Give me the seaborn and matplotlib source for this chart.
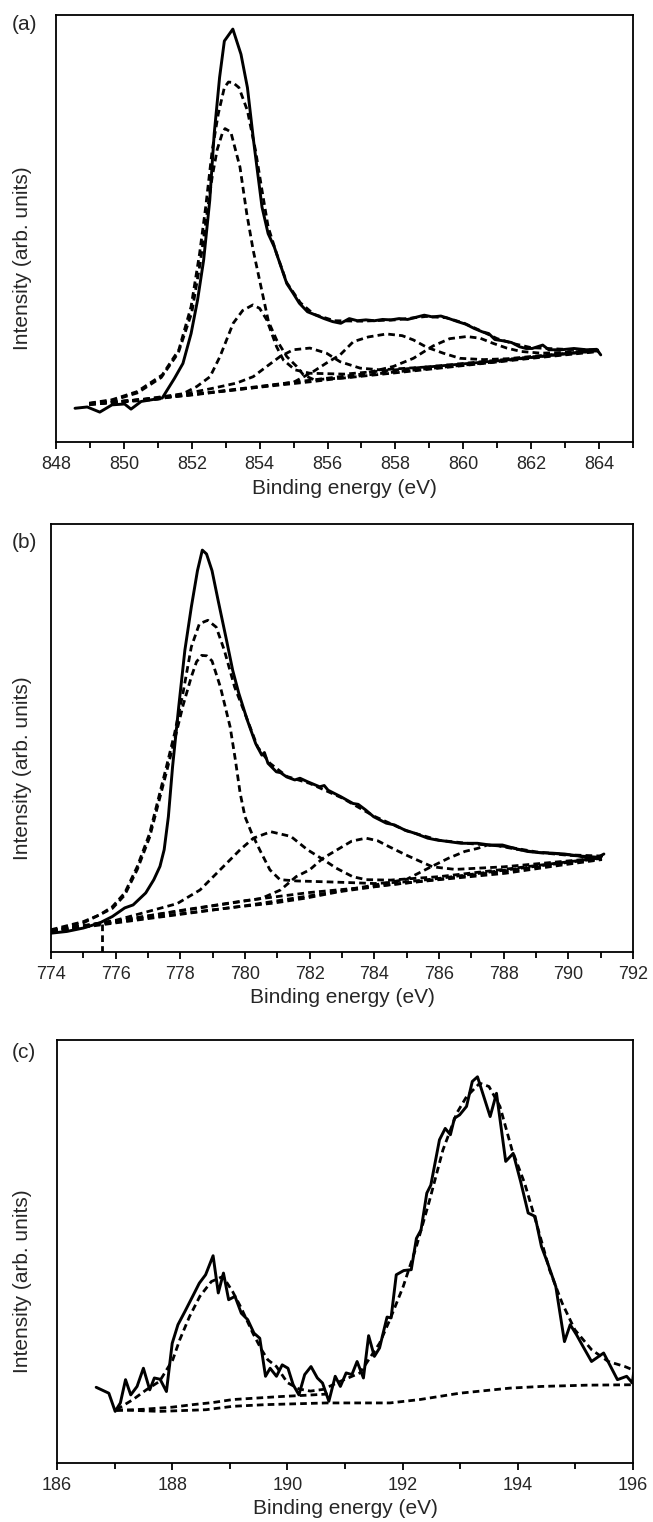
import matplotlib
matplotlib.use("Agg")
import matplotlib.pyplot as plt
from matplotlib.ticker import MultipleLocator
import seaborn as sns

sns.set_style("ticks")
plt.rcParams['font.family'] = ['Liberation Sans', 'DejaVu Sans']

# ------------------------------------------------------------------ data
PANEL_LABELS = ['(a)', '(b)', '(c)']
X_LABEL = 'Binding energy (eV)'
Y_LABEL = 'Intensity (arb. units)'

a_ticks = [848, 850, 852, 854, 856, 858, 860, 862, 864]
b_ticks = [774, 776, 778, 780, 782, 784, 786, 788, 790, 792]
c_ticks = [186, 188, 190, 192, 194, 196]

# ---- panel (a): (binding energy, intensity) pairs
a_exp = [(848.56, 7.9), (848.92, 8.2), (849.29, 7.0), (849.65, 8.7), (850.02, 8.9), (850.21, 7.7),
         (850.51, 9.5), (851.13, 10.3), (851.49, 14.9), (851.74, 18.4), (851.98, 25.4), (852.17, 33.2),
         (852.35, 42.6), (852.53, 56.6), (852.66, 72.1), (852.82, 85.4), (852.96, 93.9), (853.21, 96.7),
         (853.45, 90.8), (853.64, 83.0), (853.82, 70.6), (854.07, 55.0), (854.25, 48.8), (854.43, 45.7),
         (854.80, 37.1), (854.99, 34.8), (855.17, 32.5), (855.41, 30.5), (855.66, 29.7), (855.90, 28.9),
         (856.15, 28.2), (856.39, 27.8), (856.64, 28.9), (856.88, 28.4), (857.13, 28.6), (857.38, 28.4),
         (857.62, 28.7), (857.87, 28.6), (858.11, 28.9), (858.36, 28.7), (858.60, 29.2), (858.85, 29.7),
         (859.09, 29.3), (859.34, 29.5), (859.58, 28.9), (859.83, 28.2), (860.07, 27.6), (860.32, 26.6),
         (860.56, 25.8), (860.75, 25.4), (860.93, 24.0), (861.17, 23.7), (861.42, 23.3), (861.66, 22.3),
         (861.85, 21.9), (862.03, 21.9), (862.34, 22.7), (862.52, 21.6), (862.89, 21.6), (863.26, 21.9),
         (863.63, 21.6), (863.93, 21.7), (864.05, 20.4)]
a_env = [(848.98, 9.1), (849.65, 9.9), (850.39, 11.8), (851.13, 15.7), (851.62, 21.6), (851.98, 31.7),
         (852.23, 44.1), (852.41, 55.0), (852.60, 68.2), (852.78, 76.8), (852.96, 83.0), (853.08, 84.3),
         (853.21, 84.2), (853.39, 83.0), (853.64, 77.6), (853.88, 68.2), (854.07, 58.9), (854.25, 50.4),
         (854.50, 44.1), (854.80, 37.3), (855.2, 32.6), (855.6, 29.9), (856.2, 28.4), (857.0, 28.3),
         (858.0, 28.6), (858.9, 29.4), (859.5, 29.1), (860.0, 27.9), (860.5, 26.1), (861.0, 24.2),
         (861.5, 23.0), (862.0, 22.1), (863.0, 21.7), (864.0, 21.5)]
a_c1 = [(848.98, 9.0), (849.7, 9.8), (850.4, 11.5), (851.1, 15.1), (851.6, 20.8), (852.0, 30.3),
        (852.25, 42.0), (852.45, 53.5), (852.6, 62.0), (852.75, 68.5), (852.9, 72.3), (852.98, 73.4),
        (853.15, 72.6), (853.42, 64.4), (853.62, 53.5), (853.81, 44.9), (854.06, 35.6), (854.26, 28.2),
        (854.5, 23.9), (854.8, 20.0), (855.09, 17.7), (855.29, 15.7), (855.6, 14.6), (856.5, 15.0),
        (858.0, 16.2), (860.0, 17.9), (862.0, 19.6), (864.0, 21.2)]
a_c2 = [(848.98, 8.9), (850.5, 9.9), (851.74, 11.3), (852.15, 13.0), (852.54, 15.3), (852.83, 20.0),
        (853.22, 27.8), (853.5, 30.8), (853.8, 32.1), (854.0, 31.3), (854.21, 28.6), (854.5, 22.3),
        (854.7, 19.2), (855.04, 16.9), (855.48, 16.1), (856.5, 15.9), (858.0, 16.9), (860.0, 18.4),
        (862.0, 19.9), (864.0, 21.3)]
a_c3 = [(848.98, 8.8), (851.0, 10.0), (852.63, 12.6), (853.32, 13.8), (853.81, 15.3), (854.21, 17.7),
        (854.6, 20.0), (854.99, 21.6), (855.48, 22.0), (855.97, 20.8), (856.37, 18.8), (856.96, 17.3),
        (857.55, 16.9), (859.0, 17.6), (861.0, 19.0), (864.0, 21.4)]
a_c4 = [(848.98, 8.8), (852.0, 11.0), (854.0, 12.9), (855.0, 14.0), (855.58, 16.5), (855.97, 18.5),
        (856.37, 20.4), (856.76, 23.5), (857.2, 24.6), (857.74, 25.3), (858.2, 24.9), (858.53, 23.9),
        (858.92, 22.2), (859.41, 20.8), (859.9, 19.6), (860.6, 19.3), (861.3, 19.5), (862.5, 20.4),
        (864.0, 21.5)]
a_c5 = [(848.98, 8.8), (852.0, 11.1), (855.0, 14.0), (857.0, 15.9), (857.94, 17.7), (858.53, 19.6),
        (859.11, 22.5), (859.6, 24.2), (860.1, 24.7), (860.5, 24.3), (860.88, 23.1), (861.28, 22.0),
        (861.7, 21.2), (862.3, 20.8), (863.0, 21.0), (864.0, 21.5)]
a_bg = [(848.98, 8.9), (851.0, 10.2), (852.0, 11.1), (853.6, 12.5), (855.6, 14.2), (857.5, 16.0),
        (859.5, 17.6), (861.0, 18.8), (862.0, 19.8), (863.0, 20.7), (864.0, 21.4)]

# ---- panel (b)
b_exp = [(774.0, 4.4), (774.49, 4.8), (775.0, 5.6), (775.51, 6.8), (775.9, 8.3), (776.28, 10.3),
         (776.54, 11.0), (776.93, 13.8), (777.18, 16.9), (777.37, 20.0), (777.5, 23.9), (777.63, 31.6),
         (777.76, 43.3), (777.95, 57.3), (778.14, 70.5), (778.34, 80.6), (778.53, 89.1), (778.68, 93.9),
         (778.81, 93.0), (778.98, 89.1), (779.17, 82.1), (779.43, 72.8), (779.62, 65.8), (779.81, 60.4),
         (780.07, 54.2), (780.33, 48.7), (780.52, 46.0), (780.6, 46.6), (780.71, 44.1), (780.97, 42.1),
         (781.1, 41.9), (781.29, 40.9), (781.54, 40.2), (781.7, 40.6), (781.93, 39.8), (782.31, 38.6),
         (782.45, 38.9), (782.57, 37.8), (782.96, 36.3), (783.34, 34.7), (783.5, 34.5), (783.73, 33.2),
         (783.98, 31.6), (784.37, 30.1), (784.62, 29.7), (784.94, 28.5), (785.27, 27.7), (785.65, 26.6),
         (785.91, 26.2), (786.29, 25.8), (786.68, 25.4), (787.19, 25.4), (787.57, 25.0), (787.96, 25.0),
         (788.34, 24.2), (788.73, 23.5), (789.11, 23.2), (789.5, 23.1), (789.88, 22.9), (790.27, 22.5),
         (790.65, 21.9), (790.91, 22.1), (791.1, 22.9)]
b_env = [(774.0, 5.2), (775.0, 7.1), (775.51, 8.7), (775.9, 10.6), (776.28, 13.8), (776.67, 20.0),
         (777.05, 27.7), (777.31, 35.5), (777.57, 43.3), (777.82, 51.0), (778.08, 60.4), (778.34, 71.3),
         (778.59, 76.7), (778.85, 77.5), (779.11, 75.9), (779.36, 70.5), (779.68, 61.9), (780.0, 55.7),
         (780.39, 47.9), (780.77, 44.1), (781.3, 41.0), (782.0, 39.4), (783.0, 36.0), (784.0, 31.7),
         (785.0, 28.3), (786.0, 26.1), (787.0, 25.3), (788.0, 24.7), (789.0, 23.4), (790.0, 22.7),
         (791.1, 22.4)]
b_c1 = [(774.0, 5.0), (775.0, 6.8), (775.9, 10.2), (776.28, 13.3), (776.67, 19.3), (777.05, 26.8),
        (777.31, 34.4), (777.57, 42.0), (777.82, 49.5), (778.08, 57.5), (778.34, 64.3), (778.5, 67.8),
        (778.66, 69.3), (778.82, 69.2), (778.98, 68.0), (779.24, 61.9), (779.54, 52.6), (779.7, 45.0),
        (779.85, 37.1), (780.0, 31.6), (780.21, 27.7), (780.46, 23.8), (780.77, 19.2), (781.08, 16.9),
        (781.6, 16.6), (782.5, 16.4), (783.3, 16.2), (784.0, 16.0), (785.0, 16.4), (786.0, 17.2),
        (788.0, 19.1), (791.04, 21.9)]
b_c2 = [(774.0, 4.9), (776.0, 7.4), (777.9, 11.3), (778.61, 14.5), (779.23, 19.2), (779.85, 23.9),
        (780.26, 26.6), (780.8, 28.1), (781.42, 27.0), (781.93, 23.9), (782.44, 21.5), (782.82, 19.6),
        (783.33, 17.6), (783.74, 16.9), (784.5, 16.8), (786.0, 17.6), (788.0, 19.3), (791.04, 22.0)]
b_c3 = [(774.0, 4.8), (778.0, 9.6), (780.5, 12.5), (781.1, 14.5), (781.58, 17.6), (782.0, 19.2),
        (782.41, 21.9), (782.92, 24.2), (783.3, 25.9), (783.74, 26.6), (784.1, 26.0), (784.46, 24.6),
        (784.97, 22.7), (785.44, 21.1), (785.8, 19.9), (786.5, 19.3), (788.0, 19.9), (791.04, 22.0)]
b_c4 = [(774.0, 4.8), (780.0, 10.8), (783.0, 14.3), (785.0, 17.0), (785.78, 20.0), (786.29, 21.9),
        (786.8, 23.5), (787.19, 24.2), (787.5, 25.0), (787.83, 24.8), (788.4, 24.0), (789.0, 23.3),
        (790.0, 22.6), (791.04, 22.1)]
b_bg1 = [(774.0, 4.8), (775.6, 6.6), (777.0, 8.0), (778.5, 9.4), (779.83, 10.6), (780.86, 11.4),
         (781.89, 12.6), (782.92, 14.1), (784.46, 15.7), (786.0, 16.9), (788.06, 18.4), (789.5, 20.0),
         (791.04, 21.6)]
b_bg2 = [(774.0, 5.0), (776.0, 7.2), (778.0, 9.7), (780.0, 12.0), (782.0, 13.9), (784.0, 15.3),
         (786.0, 17.0), (788.0, 18.9), (791.04, 21.8)]
b_drop = [(775.58, 6.6), (775.58, 0.0)]

# ---- panel (c)
c_exp = [(186.68, 17.9), (186.9, 16.5), (187.01, 12.2), (187.1, 14.2), (187.19, 19.7), (187.28, 16.1),
         (187.39, 18.1), (187.5, 22.4), (187.61, 17.3), (187.69, 20.1), (187.79, 19.8), (187.9, 16.9),
         (188.0, 28.3), (188.1, 32.7), (188.22, 35.8), (188.37, 39.8), (188.47, 42.5), (188.58, 44.5),
         (188.71, 49.0), (188.8, 40.2), (188.89, 44.9), (188.98, 38.6), (189.09, 39.4), (189.2, 35.4),
         (189.31, 33.9), (189.42, 30.7), (189.52, 29.5), (189.62, 20.5), (189.7, 22.4), (189.81, 20.5),
         (189.91, 23.2), (190.01, 22.4), (190.1, 18.5), (190.2, 16.1), (190.3, 20.9), (190.41, 22.8),
         (190.52, 20.1), (190.61, 18.9), (190.72, 14.6), (190.83, 20.5), (190.92, 18.1), (191.02, 21.3),
         (191.12, 20.9), (191.21, 24.0), (191.32, 20.1), (191.41, 30.1), (191.51, 25.2), (191.6, 27.2),
         (191.73, 34.5), (191.8, 34.3), (191.89, 44.5), (192.02, 45.5), (192.15, 45.7), (192.24, 53.1),
         (192.32, 55.1), (192.42, 63.8), (192.49, 65.7), (192.64, 76.4), (192.74, 79.1), (192.83, 77.6),
         (192.9, 81.5), (192.99, 82.3), (193.11, 84.3), (193.21, 90.2), (193.3, 91.3), (193.41, 86.6),
         (193.52, 81.9), (193.63, 87.4), (193.79, 71.3), (193.92, 73.2), (194.05, 66.5), (194.18, 59.1),
         (194.3, 58.3), (194.41, 51.2), (194.52, 47.2), (194.66, 41.7), (194.81, 28.7), (194.91, 32.7),
         (195.02, 30.3), (195.13, 27.6), (195.28, 24.0), (195.49, 26.0), (195.73, 19.7), (195.89, 20.5),
         (195.99, 18.9), (196.01, 21.3)]
c_env = [(187.03, 12.6), (187.32, 15.0), (187.55, 17.3), (187.78, 19.3), (188.01, 24.4), (188.13, 29.1),
         (188.30, 34.6), (188.48, 39.4), (188.68, 42.9), (188.88, 44.1), (189.05, 40.5), (189.2, 36.6),
         (189.4, 30.7), (189.55, 26.8), (189.66, 24.4), (189.81, 22.8), (190.0, 19.0), (190.2, 17.5),
         (190.4, 17.0), (190.62, 17.4), (190.9, 19.2), (191.26, 21.3), (191.6, 28.3), (191.78, 33.9),
         (192.01, 41.7), (192.24, 51.2), (192.47, 62.2), (192.7, 74.0), (192.94, 82.7), (193.11, 86.6),
         (193.34, 89.8), (193.5, 89.0), (193.69, 84.3), (193.9, 74.0), (194.12, 66.1), (194.34, 55.9),
         (194.55, 45.7), (194.77, 37.8), (194.99, 31.5), (195.28, 26.8), (195.57, 24.0), (195.86, 22.8),
         (196.0, 22.0)]
c_bgA = [(187.03, 12.4), (187.5, 12.7), (188.0, 13.2), (188.36, 13.8), (188.71, 14.3), (189.05, 15.0),
         (189.52, 15.4), (189.87, 15.7), (190.3, 16.0), (190.7, 16.3)]
c_bgB = [(187.03, 12.6), (187.78, 12.2), (188.59, 12.6), (189.05, 13.4), (189.63, 13.8), (190.68, 14.2),
         (191.78, 14.2), (192.3, 15.0), (192.99, 16.5), (193.86, 17.7), (194.41, 18.1), (195.2, 18.4),
         (196.0, 18.5)]

panels = [
    dict(xlim=(848, 865), ticks=a_ticks, exp=a_exp,
         fits=[a_env, a_c1, a_c2, a_c3, a_c4, a_c5, a_bg]),
    dict(xlim=(774, 792), ticks=b_ticks, exp=b_exp,
         fits=[b_env, b_c1, b_c2, b_c3, b_c4, b_bg1, b_bg2, b_drop]),
    dict(xlim=(186, 196), ticks=c_ticks, exp=c_exp,
         fits=[c_env, c_bgA, c_bgB]),
]

# ------------------------------------------------------------------ layout (pixels)
W, H = 653, 1522
boxes = [(56, 15, 633, 442), (51, 524, 633, 952), (57, 1040, 633, 1463)]
label_y = [25, 543, 1053]

fig = plt.figure(figsize=(W / 100, H / 100), dpi=100)

DASH = (0, (2.4, 1.5))
for i, p in enumerate(panels):
    l, t, r, b = boxes[i]
    ax = fig.add_axes([l / W, 1 - b / H, (r - l) / W, (b - t) / H])
    for f in p['fits']:
        xs, ys = zip(*f)
        sns.lineplot(x=list(xs), y=list(ys), ax=ax, color='black', linewidth=2.0,
                     linestyle=DASH, sort=False, estimator=None)
    xs, ys = zip(*p['exp'])
    sns.lineplot(x=list(xs), y=list(ys), ax=ax, color='black', linewidth=2.1,
                 sort=False, estimator=None)

    ax.set_xlim(*p['xlim'])
    ax.set_ylim(0, 100)
    ax.set_xticks(p['ticks'])
    ax.set_xticklabels([str(v) for v in p['ticks']])
    ax.xaxis.set_minor_locator(MultipleLocator(1))
    ax.set_yticks([])
    ax.tick_params(axis='x', which='major', direction='out', length=5, width=1.3,
                   labelsize=13, pad=5, top=False, color='black')
    ax.tick_params(axis='x', which='minor', direction='out', length=4, width=1.3, top=False,
                   color='black')
    for s in ax.spines.values():
        s.set_visible(True)
        s.set_linewidth(1.3)
        s.set_color('black')

    ax.set_xlabel(X_LABEL, fontsize=15)
    ax.xaxis.label.set_va('center')
    ax.xaxis.set_label_coords(0.5, -46 / (b - t))
    ax.set_ylabel(Y_LABEL, fontsize=15)
    ax.yaxis.label.set_va('center')
    ax.yaxis.label.set_ha('center')
    ax.yaxis.set_label_coords((23 - l) / (r - l), 0.43)

    fig.text(24 / W, 1 - label_y[i] / H, PANEL_LABELS[i], fontsize=15,
             ha='center', va='center')

fig.savefig('out.png', dpi=100)
